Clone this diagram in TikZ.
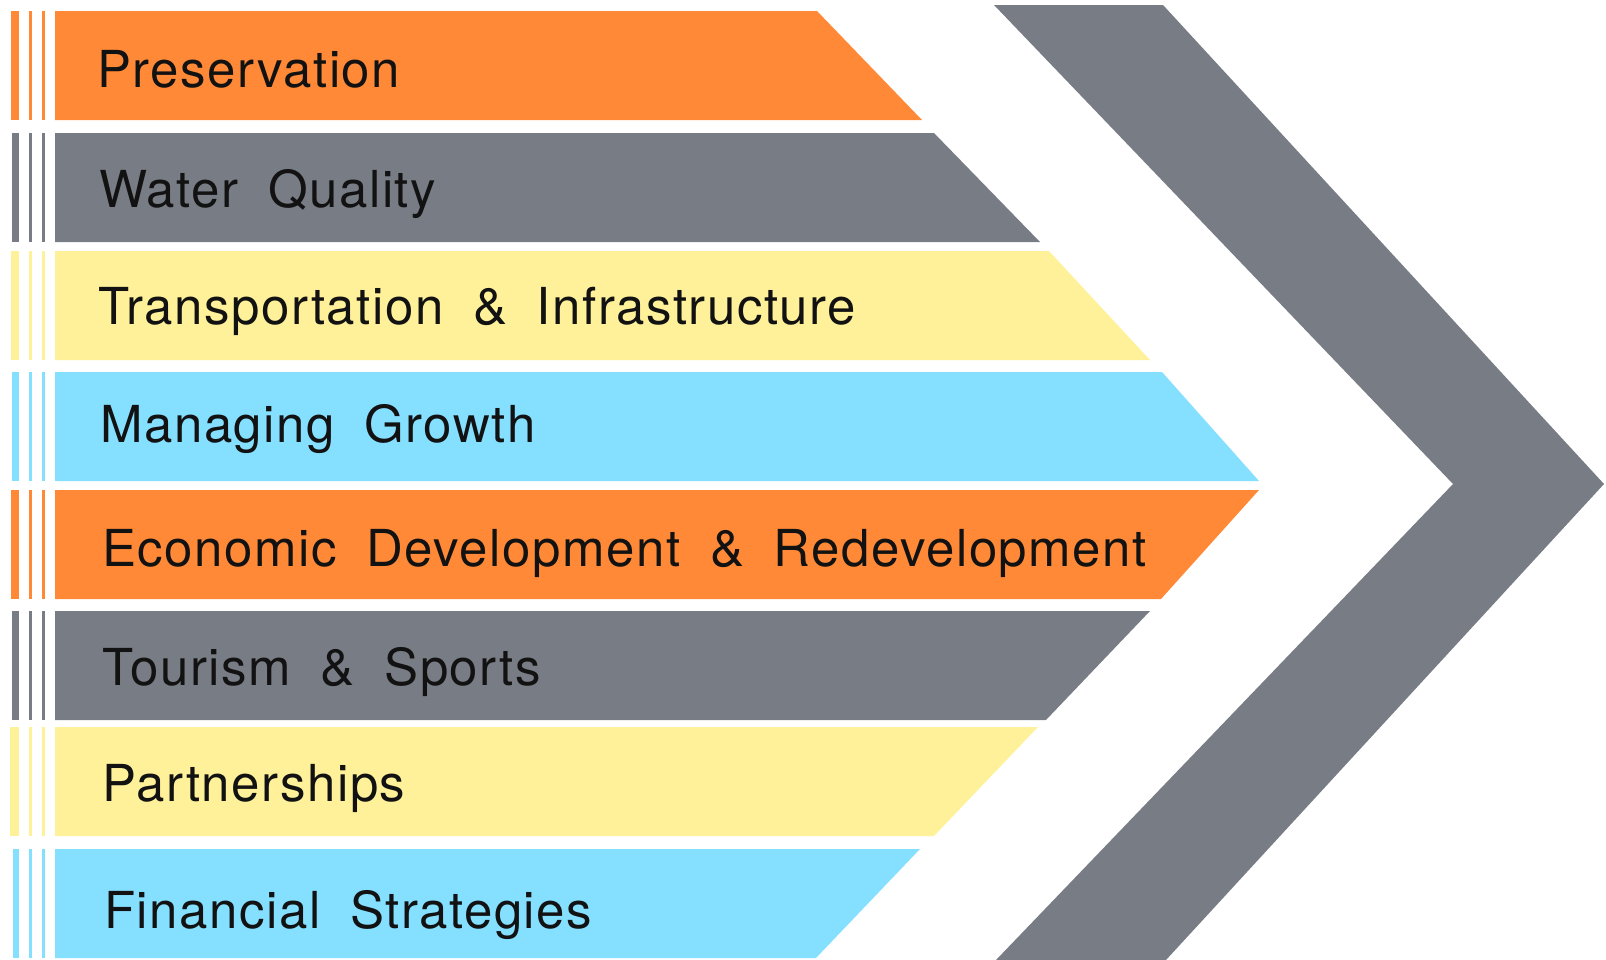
\documentclass[tikz,border=0pt]{standalone}
\usepackage{fontspec}
\setmainfont{TeX Gyre Heros}[LetterSpace=3,WordSpace=1.9]
\usepackage{tikz}

\definecolor{bandorange}{RGB}{255,137,55}
\definecolor{bandgrey}{RGB}{120,124,132}
\definecolor{bandyellow}{RGB}{255,241,153}
\definecolor{bandblue}{RGB}{133,223,255}

\begin{document}
\begin{tikzpicture}[x=0.02cm,y=-0.02cm]
            \tikzstyle{every node}+=[inner sep=0pt]
            \tikzstyle{label}=[anchor=base west,text=black!93,font=\fontsize{29}{34}\selectfont]
            \useasboundingbox (0,0) rectangle (1606,960);
            % big chevron on the right
            \fill [bandgrey] (994,5) -- (1163,5) -- (1604,484) -- (1166,960) -- (996,960) -- (1453,484) -- cycle;
            % band 1
            \fill [bandorange] (11,11) rectangle (19,120);
            \fill [bandorange] (29,11) rectangle (32,120);
            \fill [bandorange] (42,11) rectangle (45,120);
            \fill [bandorange] (55,11) -- (817,11) -- (922,120) -- (55,120) -- cycle;
            \node [label] (pres) at (97,87) {Preservation};
            % band 2
            \fill [bandgrey] (12,133) rectangle (19,242);
            \fill [bandgrey] (29,133) rectangle (32,242);
            \fill [bandgrey] (42,133) rectangle (45,242);
            \fill [bandgrey] (55,133) -- (934,133) -- (1040,242) -- (55,242) -- cycle;
            \node [label] (water) at (99,207) {Water Quality};
            % band 3
            \fill [bandyellow] (11,251) rectangle (19,360);
            \fill [bandyellow] (29,251) rectangle (32,360);
            \fill [bandyellow] (42,251) rectangle (45,360);
            \fill [bandyellow] (55,251) -- (1049,251) -- (1150,360) -- (55,360) -- cycle;
            \node [label] (transp) at (98,324) {Transportation \& Infrastructure};
            % band 4
            \fill [bandblue] (12,372) rectangle (19,481);
            \fill [bandblue] (29,372) rectangle (32,481);
            \fill [bandblue] (42,372) rectangle (45,481);
            \fill [bandblue] (55,372) -- (1162,372) -- (1259,481) -- (55,481) -- cycle;
            \node [label] (growth) at (100,442) {Managing Growth};
            % band 5
            \fill [bandorange] (11,490) rectangle (19,599);
            \fill [bandorange] (29,490) rectangle (32,599);
            \fill [bandorange] (42,490) rectangle (45,599);
            \fill [bandorange] (55,490) -- (1259,490) -- (1161,599) -- (55,599) -- cycle;
            \node [label] (econ) at (102,566) {Economic Development \& Redevelopment};
            % band 6
            \fill [bandgrey] (12,611) rectangle (19,720);
            \fill [bandgrey] (29,611) rectangle (32,720);
            \fill [bandgrey] (42,611) rectangle (45,720);
            \fill [bandgrey] (55,611) -- (1150,611) -- (1046,720) -- (55,720) -- cycle;
            \node [label] (tourism) at (102,685) {Tourism \& Sports};
            % band 7
            \fill [bandyellow] (10,727) rectangle (19,836);
            \fill [bandyellow] (29,727) rectangle (32,836);
            \fill [bandyellow] (42,727) rectangle (45,836);
            \fill [bandyellow] (55,727) -- (1038,727) -- (934,836) -- (55,836) -- cycle;
            \node [label] (partner) at (102,801) {Partnerships};
            % band 8
            \fill [bandblue] (13,849) rectangle (19,958);
            \fill [bandblue] (29,849) rectangle (32,958);
            \fill [bandblue] (42,849) rectangle (45,958);
            \fill [bandblue] (55,849) -- (920,849) -- (816,958) -- (55,958) -- cycle;
            \node [label] (finance) at (104,928) {Financial Strategies};
        \end{tikzpicture}
\end{document}
